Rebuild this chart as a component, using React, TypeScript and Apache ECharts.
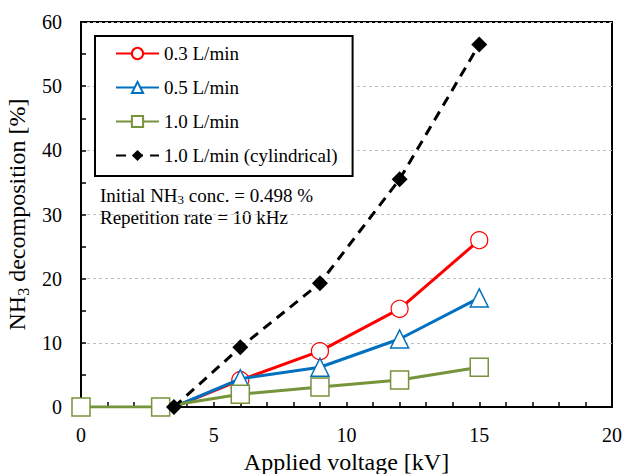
import React, { useEffect, useRef } from "react";
import * as echarts from "echarts";

const seriesNames = ["0.3 L/min", "0.5 L/min", "1.0 L/min", "1.0 L/min (cylindrical)"];
const voltage03 = [3.5, 6, 9, 12, 15];
const decomp03 = [0, 4.2, 8.7, 15.3, 26.0];
const voltage05 = [3.5, 6, 9, 12, 15];
const decomp05 = [0, 4.4, 6.2, 10.6, 17.0];
const voltage10 = [0, 3, 6, 9, 12, 15];
const decomp10 = [0, 0, 2.0, 3.1, 4.2, 6.2];
const voltageCyl = [3.5, 6, 9, 12, 15];
const decompCyl = [0, 9.3, 19.3, 35.5, 56.5];

const FONT = "'Liberation Serif', 'Times New Roman', serif";

function pairs(xs: number[], ys: number[], hideFirst: boolean) {
  return xs.map((x, i) =>
    hideFirst && i === 0 ? { value: [x, ys[i]], symbol: "none" } : { value: [x, ys[i]] }
  );
}

export default function App() {
  const ref = useRef<HTMLDivElement>(null);
  useEffect(() => {
    document.body.style.margin = "0";
    const chart = echarts.init(ref.current!, null, { renderer: "svg" });
    chart.setOption({
      animation: false,
      backgroundColor: "#fff",
      grid: {
        left: 81, right: 13, top: 22, bottom: 67,
        containLabel: false, outerBoundsMode: "none",
        show: true, borderColor: "#000", borderWidth: 2,
      },
      xAxis: {
        type: "value",
        min: 0,
        max: 20,
        interval: 5,
        name: "Applied voltage [kV]",
        nameLocation: "middle",
        nameGap: 41,
        nameTextStyle: { fontFamily: FONT, fontSize: 24, color: "#000" },
        axisLine: { lineStyle: { color: "#000", width: 2 } },
        axisTick: { inside: true, length: 5, lineStyle: { color: "#000", width: 1.5 } },
        minorTick: { show: true, splitNumber: 5, length: 5, lineStyle: { color: "#000", width: 1.5 } },
        axisLabel: { fontFamily: FONT, fontSize: 20, color: "#000", margin: 18 },
        splitLine: { show: false },
      },
      yAxis: {
        type: "value",
        min: 0,
        max: 60,
        interval: 10,
        name: "{a|NH}{s|3}{a| decomposition [%]}",
        nameLocation: "middle",
        nameGap: 44,
        nameRotate: 90,
        nameTextStyle: {
          fontFamily: FONT,
          color: "#000",
          rich: {
            a: { fontFamily: FONT, fontSize: 24, color: "#000", lineHeight: 28 },
            s: { fontFamily: FONT, fontSize: 16, color: "#000", lineHeight: 28, verticalAlign: "bottom", padding: [11, 0, 0, 0] },
          },
        },
        axisLine: { lineStyle: { color: "#000", width: 2 } },
        axisTick: { inside: true, length: 5, lineStyle: { color: "#000", width: 1.5 } },
        minorTick: { show: true, splitNumber: 2, length: 5, lineStyle: { color: "#000", width: 1.5 } },
        axisLabel: { fontFamily: FONT, fontSize: 20, color: "#000", margin: 19 },
        splitLine: { show: true, lineStyle: { color: "#BFBFBF", type: [3, 3], width: 1 } },
      },
      legend: {
        orient: "vertical",
        left: 95,
        top: 36,
        padding: [8, 15, 11, 20],
        itemGap: 15,
        itemWidth: 43,
        itemHeight: 14,
        borderColor: "#000",
        borderWidth: 2,
        borderRadius: 0,
        backgroundColor: "#fff",
        textStyle: { fontFamily: FONT, fontSize: 19, color: "#000" },
        data: seriesNames,
      },
      graphic: [
        {
          type: "text",
          left: 100,
          top: 185,
          style: {
            text: "{a|Initial NH}{s|3}{a| conc. = 0.498 %}",
            rich: {
              a: { fontFamily: FONT, fontSize: 19, fill: "#000", lineHeight: 22 },
              s: { fontFamily: FONT, fontSize: 13, fill: "#000", lineHeight: 22, verticalAlign: "bottom", padding: [8, 0, 0, 0] },
            },
          },
        },
        {
          type: "text",
          left: 100,
          top: 208,
          style: { text: "Repetition rate = 10 kHz", fontFamily: FONT, fontSize: 19, fill: "#000" },
        },
      ],
      series: [
        {
          name: seriesNames[0],
          type: "line",
          data: pairs(voltage03, decomp03, true),
          symbol: "circle",
          symbolSize: 17,
          lineStyle: { color: "#FF0000", width: 3 },
          itemStyle: { color: "#fff", borderColor: "#FF0000", borderWidth: 1.2 },
          z: 2,
        },
        {
          name: seriesNames[1],
          type: "line",
          data: pairs(voltage05, decomp05, true),
          symbol: "triangle",
          symbolSize: 18,
          lineStyle: { color: "#0070C0", width: 3 },
          itemStyle: { color: "#fff", borderColor: "#0070C0", borderWidth: 1.5 },
          z: 3,
        },
        {
          name: seriesNames[2],
          type: "line",
          data: pairs(voltage10, decomp10, false),
          symbol: "rect",
          symbolSize: 18,
          lineStyle: { color: "#77933C", width: 3 },
          itemStyle: { color: "#fff", borderColor: "#77933C", borderWidth: 1.5 },
          z: 4,
        },
        {
          name: seriesNames[3],
          type: "line",
          data: pairs(voltageCyl, decompCyl, false),
          symbol: "diamond",
          symbolSize: 16,
          lineStyle: { color: "#000", width: 3, type: [10, 7] },
          itemStyle: { color: "#000" },
          z: 5,
        },
      ],
    });
    return () => chart.dispose();
  }, []);
  return <div ref={ref} style={{ width: 625, height: 474 }} />;
}
